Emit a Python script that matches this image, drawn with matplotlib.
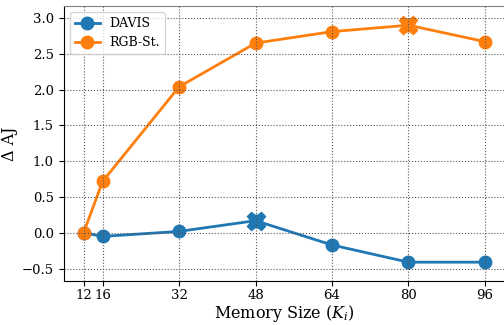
import matplotlib
matplotlib.use("Agg")
import matplotlib.pyplot as plt

plt.rcParams['font.family'] = 'DejaVu Serif'
plt.rcParams['mathtext.fontset'] = 'dejavuserif'

memory = [12, 16, 32, 48, 64, 80, 96]
davis = [0.0, -0.05, 0.02, 0.17, -0.17, -0.41, -0.41]
rgb_st = [0.0, 0.72, 2.04, 2.65, 2.81, 2.90, 2.67]
best_davis = 3   # index of the highlighted point
best_rgb = 5

fig = plt.figure(figsize=(5.04, 3.25), dpi=100)
ax = fig.add_axes([0.126, 0.136, 0.876, 0.846])

ax.plot(memory, davis, '-o', color='#1f77b4', lw=2, ms=9, label='DAVIS')
ax.plot(memory, rgb_st, '-o', color='#ff7f0e', lw=2, ms=9, label='RGB-St.')
ax.plot(memory[best_davis], davis[best_davis], 'X', color='#1f77b4', ms=13)
ax.plot(memory[best_rgb], rgb_st[best_rgb], 'X', color='#ff7f0e', ms=13)

ax.set_xlim(7.8, 100.2)
ax.set_ylim(-0.67, 3.17)
ax.set_xticks(memory)
ax.set_yticks([-0.5, 0.0, 0.5, 1.0, 1.5, 2.0, 2.5, 3.0])
ax.tick_params(labelsize=9.5)
ax.tick_params(axis='x', pad=2.5)
ax.set_axisbelow(False)
ax.grid(True, linestyle=':', color='0.35', lw=0.8)

ax.set_xlabel('Memory Size ($K_i$)', fontsize=11.5)
ax.set_ylabel('Δ AJ', fontsize=11.5)
ax.xaxis.set_label_coords(0.5, -0.08)
ax.yaxis.set_label_coords(-0.102, 0.5)

ax.spines['top'].set_color('0.5')
ax.spines['right'].set_color('0.5')

ax.legend(loc='upper left', fontsize=9)

fig.savefig('out.png', dpi=100)
